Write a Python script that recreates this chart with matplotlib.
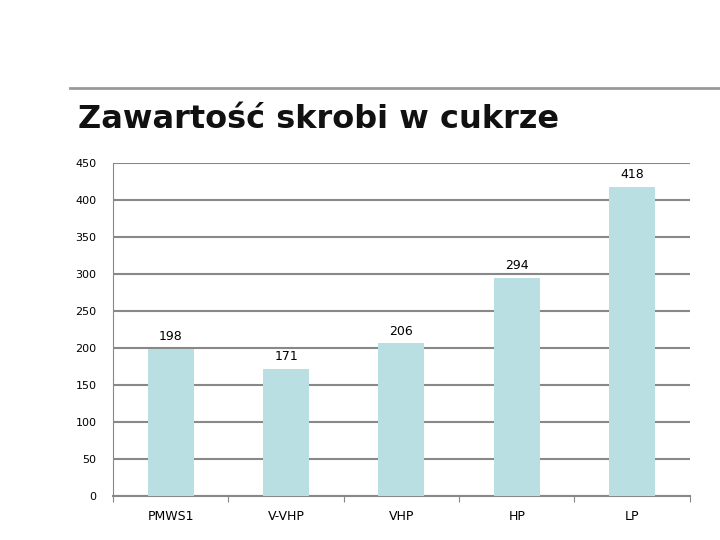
import matplotlib
matplotlib.use("Agg")
import matplotlib.pyplot as plt
from matplotlib.lines import Line2D

categories = ["PMWS1", "V-VHP", "VHP", "HP", "LP"]
values = [198, 171, 206, 294, 418]
yticks = [0, 50, 100, 150, 200, 250, 300, 350, 400, 450]

fig = plt.figure(figsize=(7.2, 5.4), dpi=100)
ax = fig.add_axes([0.157, 0.0815, 0.801, 0.617])

# line over the title
fig.add_artist(Line2D([0.097, 1.0], [0.837, 0.837], color="#999999", lw=2))
fig.text(0.108, 0.778, "Zawartość skrobi w cukrze", fontsize=23, fontweight="bold",
         va="center", ha="left", color="#111111")

x = range(len(categories))
ax.bar(x, values, width=0.4, color="#b9dfe2", zorder=3)
for xi, v in zip(x, values):
    ax.text(xi, v + 8, str(v), ha="center", va="bottom", fontsize=9)

ax.set_xlim(-0.5, len(categories) - 0.5)
ax.set_ylim(0, 450)
ax.set_yticks(yticks)
ax.set_yticklabels([str(t) for t in yticks], fontsize=8)
ax.yaxis.grid(True, color="#888888", lw=1.5, zorder=0)
ax.tick_params(axis="y", length=0, pad=12)
ax.set_xticks([i - 0.5 for i in range(len(categories) + 1)], minor=False)
ax.set_xticklabels([])
ax.set_xticks(list(x), minor=True)
ax.set_xticklabels(categories, minor=True, fontsize=9)
ax.tick_params(axis="x", which="minor", length=0, pad=10)
ax.tick_params(axis="x", which="major", length=4, color="#888888")
for s in ["top", "right"]:
    ax.spines[s].set_visible(False)
ax.spines["left"].set_color("#888888")
ax.spines["bottom"].set_color("#888888")
ax.spines["bottom"].set_linewidth(1.5)

fig.savefig("out.png", dpi=100)
